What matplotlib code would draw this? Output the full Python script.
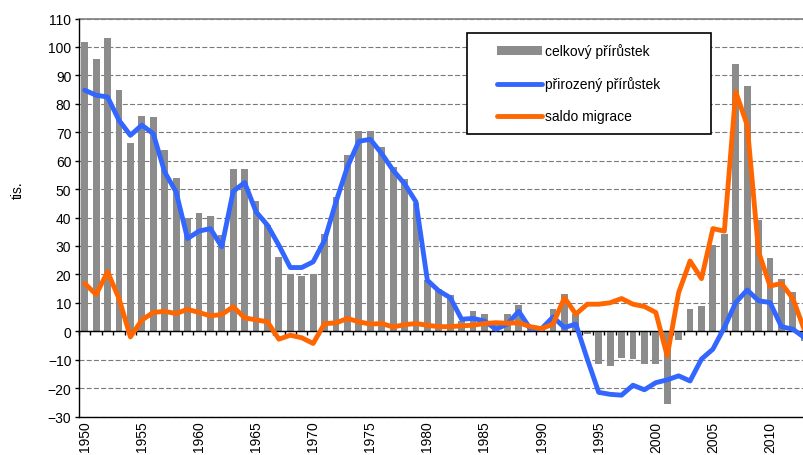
import numpy as np
import matplotlib
matplotlib.use('Agg')
import matplotlib.pyplot as plt
from matplotlib.lines import Line2D
from matplotlib.container import BarContainer
from matplotlib.legend_handler import HandlerLine2D, HandlerPatch, update_from_first_child
from matplotlib.ticker import MultipleLocator

plt.rcParams['font.family'] = ['Liberation Sans', 'DejaVu Sans']

# roky 1950-2013, hodnoty v tisících
years = list(range(1950, 2014))

celkovy = [101.8, 95.9, 103.2, 85.0, 66.1, 75.7, 75.3, 63.7, 54.0, 39.9,
           41.7, 40.4, 34.0, 57.0, 57.0, 45.8, 37.3, 26.1, 20.3, 19.5,
           20.3, 34.3, 47.2, 61.9, 70.3, 70.3, 64.8, 57.8, 53.7, 45.0,
           18.0, 15.0, 12.7, 3.5, 7.2, 6.2, 2.5, 6.2, 9.1, 1.5,
           1.5, 7.8, 13.2, 6.0, -1.0, -11.7, -12.2, -9.3, -9.8, -11.6,
           -11.6, -25.7, -3.0, 7.9, 8.8, 30.2, 34.3, 93.9, 86.3, 39.0,
           25.8, 18.5, 13.8, -3.6]

prirozeny = [84.8, 83.0, 82.4, 74.2, 68.9, 72.5, 69.5, 56.0, 49.0, 32.6,
             35.2, 36.1, 29.7, 49.2, 52.3, 42.0, 37.3, 30.2, 22.4, 22.4,
             24.4, 32.0, 45.5, 57.8, 66.8, 67.5, 62.5, 56.6, 51.9, 45.5,
             17.9, 14.2, 11.8, 4.2, 4.5, 3.6, 0.7, 2.5, 7.0, 0.9,
             0.9, 5.0, 1.3, 2.5, -9.8, -21.5, -22.2, -22.5, -19.0, -20.6,
             -18.1, -17.1, -15.7, -17.5, -9.8, -6.3, 1.3, 10.1, 14.5, 10.7,
             10.1, 1.6, 0.7, -2.2]

saldo = [16.8, 12.9, 20.9, 11.5, -2.0, 3.9, 6.6, 7.0, 6.2, 7.7,
         6.6, 5.4, 5.9, 8.6, 4.7, 4.0, 3.3, -2.8, -1.4, -2.3,
         -4.3, 2.7, 2.9, 4.5, 3.3, 2.5, 2.7, 1.5, 2.3, 2.7,
         2.1, 1.6, 1.6, 1.9, 2.1, 2.7, 3.0, 2.8, 3.0, 1.6,
         0.9, 2.5, 11.8, 6.0, 9.5, 9.5, 10.0, 11.5, 9.5, 8.7,
         6.6, -8.7, 13.6, 24.7, 18.5, 36.1, 35.2, 84.2, 72.5, 27.9,
         15.9, 16.8, 11.5, 0.5]

x = np.arange(len(years))

fig = plt.figure(figsize=(8.04, 4.56), dpi=100)
ax = fig.add_axes([79 / 804, 1 - 417.5 / 456, 731 / 804, 398 / 456])

bars = ax.bar(x, celkovy, width=0.6, color='#8c8c8c', zorder=2,
              label='celkový přírůstek')
l1, = ax.plot(x, prirozeny, color='#3366ff', lw=3.5, solid_joinstyle='round',
              solid_capstyle='round', zorder=3, label='přirozený přírůstek')
l2, = ax.plot(x, saldo, color='#ff6600', lw=3.5, solid_joinstyle='round',
              solid_capstyle='round', zorder=4, label='saldo migrace')

ax.set_xlim(-0.5, len(years) - 0.5)
ax.set_ylim(-30, 110)
ax.yaxis.set_major_locator(MultipleLocator(10))
ax.grid(axis='y', color='#7a7a7a', lw=0.8, linestyle=(0, (4.5, 2)))
ax.set_axisbelow(True)
ax.axhline(110, color='#808080', lw=1.2, clip_on=False, zorder=1)

# osy: horní spine slouží jako osa v nule s tickami mezi kategoriemi
ax.spines['right'].set_visible(False)
ax.spines['top'].set_position(('data', 0))
for s in ['left', 'bottom', 'top']:
    ax.spines[s].set_color('black')
    ax.spines[s].set_linewidth(1.0)
ax.spines['top'].set_zorder(2.5)

ax.set_xticks(x[::5])
ax.set_xticklabels([str(y) for y in years[::5]])
ax.set_xticks(np.arange(-0.5, len(years)), minor=True)
ax.tick_params(axis='x', which='major', length=0, bottom=True, top=False,
               labelbottom=True, labeltop=False, pad=3, labelsize=10,
               labelrotation=90)
ax.tick_params(axis='x', which='minor', length=3, width=1, direction='in',
               top=True, bottom=False, color='black')
ax.tick_params(axis='y', which='major', length=3, width=1, direction='out',
               labelsize=10, pad=2.5, right=False)

fig.text(18 / 804, 1 - 190 / 456, 'tis.', rotation=90, ha='center',
         va='center', fontsize=10)

hmap = {Line2D: HandlerLine2D(xpad=1.4),
        BarContainer: HandlerPatch(xpad=1.4, update_func=update_from_first_child)}
leg = ax.legend(handles=[bars, l1, l2], loc='upper left',
                bbox_to_anchor=(467 / 804, 1 - 133 / 456, 244 / 804, 99 / 456),
                bbox_transform=fig.transFigure, mode='expand', borderaxespad=0,
                borderpad=0.75, labelspacing=1.3, handlelength=4.65,
                handleheight=0.6, handletextpad=0.2, frameon=True,
                fancybox=False, edgecolor='black', framealpha=1, fontsize=10,
                handler_map=hmap)
leg.get_frame().set_linewidth(1.2)
leg.set_zorder(5)

fig.savefig('out.png', dpi=100)
